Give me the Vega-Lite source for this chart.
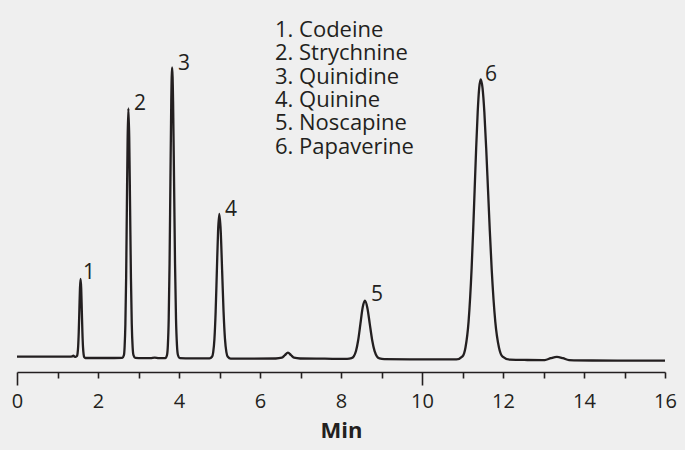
{
  "$schema": "https://vega.github.io/schema/vega-lite/v6.json",
  "width": 648,
  "height": 372,
  "autosize": "none",
  "padding": {"left": 17, "top": 0, "right": 20, "bottom": 78},
  "background": "#efefef",
  "config": {
    "view": {"stroke": null},
    "font": "Open Sans"
  },
  "layer": [
    {
      "data": {
        "values": [
          {"t": 0, "s": 15.3}, {"t": 0.5, "s": 15.4}, {"t": 1.0, "s": 15.3}, {"t": 1.3, "s": 15.4},
          {"t": 1.36, "s": 15.6}, {"t": 1.39, "s": 16.3}, {"t": 1.42, "s": 15.4}, {"t": 1.45, "s": 15.2},
          {"t": 1.48, "s": 15.9}, {"t": 1.495, "s": 18.4}, {"t": 1.51, "s": 25.5}, {"t": 1.525, "s": 40.3},
          {"t": 1.54, "s": 62.3}, {"t": 1.555, "s": 83.9}, {"t": 1.57, "s": 93.0}, {"t": 1.585, "s": 83.7},
          {"t": 1.6, "s": 61.9}, {"t": 1.615, "s": 39.8}, {"t": 1.63, "s": 24.9}, {"t": 1.645, "s": 17.6},
          {"t": 1.66, "s": 14.9}, {"t": 1.69, "s": 14.0}, {"t": 2.0, "s": 14.0}, {"t": 2.4, "s": 14.0},
          {"t": 2.6, "s": 14.1}, {"t": 2.64, "s": 16.8}, {"t": 2.657, "s": 25.0}, {"t": 2.676, "s": 47.8},
          {"t": 2.695, "s": 95.0}, {"t": 2.713, "s": 165.4}, {"t": 2.732, "s": 234.2}, {"t": 2.75, "s": 263.7},
          {"t": 2.771, "s": 234.2}, {"t": 2.792, "s": 165.4}, {"t": 2.813, "s": 95.0}, {"t": 2.834, "s": 47.8},
          {"t": 2.855, "s": 25.0}, {"t": 2.876, "s": 16.8}, {"t": 2.918, "s": 14.1}, {"t": 3.1, "s": 13.8},
          {"t": 3.3, "s": 13.9}, {"t": 3.4, "s": 14.4}, {"t": 3.5, "s": 13.8}, {"t": 3.662, "s": 13.9},
          {"t": 3.704, "s": 17.0}, {"t": 3.725, "s": 26.6}, {"t": 3.746, "s": 53.2}, {"t": 3.767, "s": 108.3},
          {"t": 3.788, "s": 190.2}, {"t": 3.809, "s": 270.5}, {"t": 3.83, "s": 304.7}, {"t": 3.854, "s": 270.5},
          {"t": 3.878, "s": 190.2}, {"t": 3.902, "s": 108.3}, {"t": 3.926, "s": 53.2}, {"t": 3.95, "s": 26.6},
          {"t": 3.974, "s": 17.0}, {"t": 4.022, "s": 13.9}, {"t": 4.3, "s": 13.6}, {"t": 4.755, "s": 13.6},
          {"t": 4.815, "s": 15.2}, {"t": 4.845, "s": 19.9}, {"t": 4.875, "s": 33.1}, {"t": 4.905, "s": 60.5},
          {"t": 4.935, "s": 101.2}, {"t": 4.965, "s": 141.0}, {"t": 4.995, "s": 158.0}, {"t": 5.03, "s": 141.0},
          {"t": 5.065, "s": 101.2}, {"t": 5.1, "s": 60.5}, {"t": 5.135, "s": 33.1}, {"t": 5.17, "s": 19.9},
          {"t": 5.205, "s": 15.2}, {"t": 5.275, "s": 13.4}, {"t": 5.8, "s": 13.4}, {"t": 6.39, "s": 13.5},
          {"t": 6.54, "s": 14.3}, {"t": 6.615, "s": 16.9}, {"t": 6.69, "s": 19.3}, {"t": 6.765, "s": 16.9},
          {"t": 6.84, "s": 14.3}, {"t": 6.99, "s": 13.5}, {"t": 7.6, "s": 13.3}, {"t": 8.15, "s": 13.1},
          {"t": 8.26, "s": 13.8}, {"t": 8.315, "s": 15.6}, {"t": 8.37, "s": 21.0}, {"t": 8.425, "s": 32.0},
          {"t": 8.48, "s": 48.4}, {"t": 8.535, "s": 64.5}, {"t": 8.59, "s": 71.3}, {"t": 8.65, "s": 64.3},
          {"t": 8.71, "s": 48.2}, {"t": 8.77, "s": 31.8}, {"t": 8.83, "s": 20.8}, {"t": 8.89, "s": 15.4},
          {"t": 8.95, "s": 13.6}, {"t": 9.07, "s": 12.9}, {"t": 9.8, "s": 12.7}, {"t": 10.85, "s": 12.6},
          {"t": 11.0, "s": 15.6}, {"t": 11.075, "s": 24.8}, {"t": 11.15, "s": 50.4}, {"t": 11.225, "s": 103.5},
          {"t": 11.2625, "s": 140.8}, {"t": 11.3, "s": 182.4}, {"t": 11.3375, "s": 224.0}, {"t": 11.375, "s": 259.8},
          {"t": 11.4125, "s": 284.1}, {"t": 11.45, "s": 292.7}, {"t": 11.495, "s": 283.9}, {"t": 11.54, "s": 259.6},
          {"t": 11.585, "s": 223.8}, {"t": 11.63, "s": 182.2}, {"t": 11.675, "s": 140.6}, {"t": 11.72, "s": 103.3},
          {"t": 11.81, "s": 50.2}, {"t": 11.9, "s": 24.6}, {"t": 11.99, "s": 15.4}, {"t": 12.17, "s": 12.3},
          {"t": 12.6, "s": 12.0}, {"t": 13.03, "s": 11.9}, {"t": 13.18, "s": 13.8}, {"t": 13.33, "s": 15.1},
          {"t": 13.48, "s": 13.8}, {"t": 13.63, "s": 11.9}, {"t": 14.2, "s": 11.5}, {"t": 15.0, "s": 11.4},
          {"t": 16.0, "s": 11.3}
        ]
      },
      "mark": {"type": "line", "color": "#231f20", "strokeWidth": 2.3, "interpolate": "monotone"},
      "encoding": {
        "x": {
          "field": "t", "type": "quantitative",
          "scale": {"domain": [0, 16], "nice": false, "zero": false},
          "axis": {
            "title": "Min",
            "titleFont": "Open Sans",
            "titleFontSize": 22,
            "titleFontWeight": "bold",
            "titleColor": "#231f20",
            "titlePadding": 9,
            "values": [0,1,2,3,4,5,6,7,8,9,10,11,12,13,14,15,16],
            "labelExpr": "datum.value % 2 == 0 ? datum.label : ''",
            "labelFont": "Open Sans",
            "labelFontSize": 20,
            "labelColor": "#231f20",
            "labelPadding": {"condition": {"test": "datum.value == 0 || datum.value == 10", "value": 6}, "value": 13},
            "labelFlush": false,
            "labelOverlap": false,
            "domainColor": "#231f20",
            "domainWidth": 1.6,
            "tickColor": "#231f20",
            "tickWidth": 1.6,
            "tickSize": {"condition": {"test": "datum.value == 0 || datum.value == 10", "value": 13}, "value": 6},
            "grid": false
          }
        },
        "y": {
          "field": "s", "type": "quantitative",
          "scale": {"domain": [0, 372], "nice": false, "zero": false},
          "axis": null
        }
      }
    },
    {
      "data": {
        "values": [
          {"t": 1.778, "s": 99, "label": "1"},
          {"t": 3.037, "s": 268, "label": "2"},
          {"t": 4.123, "s": 308, "label": "3"},
          {"t": 5.284, "s": 162, "label": "4"},
          {"t": 8.889, "s": 77, "label": "5"},
          {"t": 11.704, "s": 297, "label": "6"}
        ]
      },
      "mark": {"type": "text", "font": "Open Sans", "fontSize": 21, "color": "#231f20", "align": "center", "baseline": "middle"},
      "encoding": {
        "x": {"field": "t", "type": "quantitative"},
        "y": {"field": "s", "type": "quantitative"},
        "text": {"field": "label"}
      }
    },
    {
      "data": {
        "values": [
          {"t": 6.37, "s": 335.3, "label": "1. Codeine"},
          {"t": 6.37, "s": 311.9, "label": "2. Strychnine"},
          {"t": 6.37, "s": 288.5, "label": "3. Quinidine"},
          {"t": 6.37, "s": 265.1, "label": "4. Quinine"},
          {"t": 6.37, "s": 241.7, "label": "5. Noscapine"},
          {"t": 6.37, "s": 218.3, "label": "6. Papaverine"}
        ]
      },
      "mark": {"type": "text", "font": "Open Sans", "fontSize": 22, "color": "#231f20", "align": "left", "baseline": "alphabetic"},
      "encoding": {
        "x": {"field": "t", "type": "quantitative"},
        "y": {"field": "s", "type": "quantitative"},
        "text": {"field": "label"}
      }
    }
  ]
}
